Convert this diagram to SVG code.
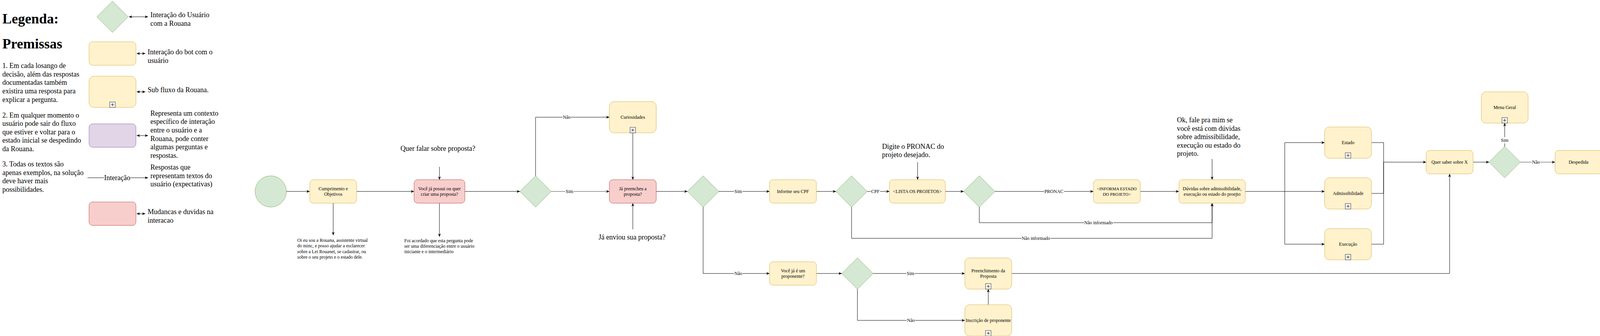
<svg xmlns="http://www.w3.org/2000/svg" width="4222" height="860" viewBox="0 0 4222 860">
<style>
text{font-family:"Liberation Serif","Times New Roman",serif;fill:#000}
.t12{font-size:12px}
.t11{font-size:11px}
.t18{font-size:18px}
.h{font-size:36px;font-weight:bold}
.c{text-anchor:middle}
.y{fill:#fff2cc;stroke:#d6b656;stroke-width:1}
.g{fill:#d5e8d4;stroke:#82b366;stroke-width:1}
.r{fill:#f8cecc;stroke:#b85450;stroke-width:1}
.p{fill:#e1d5e7;stroke:#9673a6;stroke-width:1}
.e{fill:none;stroke:#000;stroke-width:1}
.eg{fill:none;stroke:#808080;stroke-width:1.6}
.lb{fill:#fff;stroke:none}
.mk{fill:#fff;stroke:#333;stroke-width:1}
.pl{stroke:#000;stroke-width:1}
</style>
<defs>
<marker id="a" viewBox="0 0 8 8" refX="8" refY="4" markerWidth="8" markerHeight="8" markerUnits="userSpaceOnUse" orient="auto-start-reverse">
<path d="M0,0.5 L8,4 L0,7.5 L2,4 Z" fill="#000"/>
</marker>
<g id="sub"><rect class="mk" x="-7" y="-14" width="14" height="14"/><path class="pl" d="M-4,-7 H4 M0,-11 V-3"/></g>
</defs>
<rect width="4222" height="860" fill="#fff"/>

<g id="legend">
<text class="h" x="6" y="60">Legenda:</text>
<text class="h" x="6" y="124">Premissas</text>
<text class="t18" x="6">
<tspan x="6" y="174">1. Em cada losango de</tspan>
<tspan x="6" y="196">decisão, além das respostas</tspan>
<tspan x="6" y="217">documentadas também</tspan>
<tspan x="6" y="239">existira uma resposta para</tspan>
<tspan x="6" y="261">explicar a pergunta.</tspan>
<tspan x="6" y="301">2. Em qualquer momento o</tspan>
<tspan x="6" y="322">usuário pode sair do fluxo</tspan>
<tspan x="6" y="344">que estiver e voltar para o</tspan>
<tspan x="6" y="365">estado inicial se despedindo</tspan>
<tspan x="6" y="387">da Rouana.</tspan>
<tspan x="6" y="426">3. Todas os textos são</tspan>
<tspan x="6" y="448">apenas exemplos, na solução</tspan>
<tspan x="6" y="469">deve haver mais</tspan>
<tspan x="6" y="491">possibilidades.</tspan>
</text>
<g id="leg-diamond"><path class="g" d="M288,3 L328,43 L288,83 L248,43 Z"/>
<path class="e" d="M330,43 H379" marker-start="url(#a)" marker-end="url(#a)"/>
<text class="t18"><tspan x="385" y="44">Interação do Usuário</tspan><tspan x="385" y="66">com a Rouana</tspan></text></g>
<g id="leg-bot"><rect class="y" x="228" y="107" width="120" height="60" rx="9"/>
<path class="e" d="M350,137 H372" marker-start="url(#a)" marker-end="url(#a)"/>
<text class="t18"><tspan x="378" y="139">Interação do bot com o</tspan><tspan x="378" y="161">usuário</tspan></text></g>
<g id="leg-sub"><rect class="y" x="228" y="195" width="120" height="80" rx="12"/><use href="#sub" x="288" y="275"/>
<path class="e" d="M350,235 H372" marker-start="url(#a)" marker-end="url(#a)"/>
<text class="t18" x="378" y="236">Sub fluxo da Rouana.</text></g>
<g id="leg-ctx"><rect class="p" x="228" y="317" width="120" height="60" rx="9"/>
<path class="e" d="M350,347 H379" marker-start="url(#a)" marker-end="url(#a)"/>
<text class="t18"><tspan x="385" y="296">Representa um contexto</tspan><tspan x="385" y="317">específico de interação</tspan><tspan x="385" y="339">entre o usuário e a</tspan><tspan x="385" y="361">Rouana, pode conter</tspan><tspan x="385" y="382">algumas perguntas e</tspan><tspan x="385" y="404">respostas.</tspan></text></g>
<g id="leg-int"><path class="e" d="M224,455 H379" marker-end="url(#a)"/>
<rect class="lb" x="266" y="445" width="68" height="20"/>
<text class="t18 c" x="300" y="461">Interação</text>
<text class="t18"><tspan x="385" y="434">Respostas que</tspan><tspan x="385" y="456">representam textos do</tspan><tspan x="385" y="477">usuário (expectativas)</tspan></text></g>
<g id="leg-chg"><rect class="r" x="228" y="517" width="120" height="60" rx="9"/>
<path class="e" d="M350,547 H372" marker-start="url(#a)" marker-end="url(#a)"/>
<text class="t18"><tspan x="378" y="548">Mudancas e duvidas na</tspan><tspan x="378" y="570">interacao</tspan></text></g>
</g>

<g id="connectors">
<path class="e" d="M733,490 H793" marker-end="url(#a)"/>
<path class="e" d="M853,520 V602" marker-end="url(#a)"/>
<path class="e" d="M913,490 H1060" marker-end="url(#a)"/>
<path class="e" d="M1125,427 V460" marker-end="url(#a)"/>
<path class="e" d="M1125,520 V606" marker-end="url(#a)"/>
<path class="e" d="M1190,490 H1331" marker-end="url(#a)"/>
<path class="e" d="M1371,450 V300 H1560" marker-end="url(#a)"/>
<path class="eg" d="M1411,490 H1560" marker-end="url(#a)"/>
<path class="e" d="M1620,340 V460" marker-end="url(#a)"/>
<path class="e" d="M1620,587 V520" marker-end="url(#a)"/>
<path class="e" d="M1680,490 H1760" marker-end="url(#a)"/>
<path class="e" d="M1840,490 H1970" marker-end="url(#a)"/>
<path class="e" d="M1800,530 V700 H1970" marker-end="url(#a)"/>
<path class="e" d="M2090,490 H2140" marker-end="url(#a)"/>
<path class="e" d="M2220,490 H2277" marker-end="url(#a)"/>
<path class="e" d="M2349,415 V460" marker-end="url(#a)"/>
<path class="e" d="M2420,490 H2467" marker-end="url(#a)"/>
<path class="e" d="M2547,490 H2799" marker-end="url(#a)"/>
<path class="e" d="M2507,530 V570 H3103 V520" marker-end="url(#a)"/>
<path class="e" d="M2180,530 V610 H3103 V520" marker-end="url(#a)"/>
<path class="e" d="M2919,490 H3018" marker-end="url(#a)"/>
<path class="e" d="M3103,407 V460" marker-end="url(#a)"/>
<path class="e" d="M3188,490 H3391" marker-end="url(#a)"/>
<path class="e" d="M3289,490 V365 H3391" marker-end="url(#a)"/>
<path class="e" d="M3289,490 V625 H3391" marker-end="url(#a)"/>
<path class="e" d="M3511,365 H3542 V415 H3651" marker-end="url(#a)"/>
<path class="e" d="M3511,495 H3542 V415"/>
<path class="e" d="M3511,625 H3542 V415"/>
<path class="e" d="M3771,415 H3812" marker-end="url(#a)"/>
<path class="e" d="M3852,375 V315" marker-end="url(#a)"/>
<path class="eg" d="M3892,415 H3981" marker-end="url(#a)"/>
<path class="e" d="M4101,415 H4142" marker-end="url(#a)"/>
<path class="e" d="M2090,700 H2155" marker-end="url(#a)"/>
<path class="e" d="M2235,700 H2470" marker-end="url(#a)"/>
<path class="e" d="M2195,740 V820 H2470" marker-end="url(#a)"/>
<path class="e" d="M2530,780 V740" marker-end="url(#a)"/>
<path class="e" d="M2590,700 H3711 V445" marker-end="url(#a)"/>
<g id="edge-labels" class="t12">
<rect class="lb" x="1440" y="292" width="22" height="16"/><text class="c" x="1451" y="304">Não</text>
<rect class="lb" x="1447" y="482" width="22" height="16"/><text class="c" x="1458" y="494">Sim</text>
<rect class="lb" x="1879" y="482" width="22" height="16"/><text class="c" x="1890" y="494">Sim</text>
<rect class="lb" x="1879" y="692" width="22" height="16"/><text class="c" x="1890" y="704">Não</text>
<rect class="lb" x="2229" y="482" width="24" height="16"/><text class="c" x="2241" y="494">CPF</text>
<rect class="lb" x="2673" y="482" width="51" height="16"/><text class="c" x="2698" y="494">PRONAC</text>
<rect class="lb" x="2775" y="562" width="75" height="16"/><text class="c" x="2812" y="574">Não informado</text>
<rect class="lb" x="2615" y="602" width="75" height="16"/><text class="c" x="2652" y="614">Não informado</text>
<rect class="lb" x="3841" y="351" width="22" height="16"/><text class="c" x="3852" y="363">Sim</text>
<rect class="lb" x="3921" y="407" width="22" height="16"/><text class="c" x="3932" y="419">Não</text>
<rect class="lb" x="2320" y="692" width="22" height="16"/><text class="c" x="2331" y="704">Sim</text>
<rect class="lb" x="2321" y="812" width="22" height="16"/><text class="c" x="2332" y="824">Não</text>
</g>
</g>

<g id="start"><circle class="g" cx="693" cy="490" r="40"/></g>
<g id="cumprimento"><rect class="y" x="793" y="460" width="120" height="60" rx="9"/>
<text class="t12 c"><tspan x="853" y="487">Cumprimento e</tspan><tspan x="853" y="501">Objetivos</tspan></text></g>
<g id="oi-texto"><text class="t12"><tspan x="761" y="619">Oi eu sou a Rouana, assistente virtual</tspan><tspan x="761" y="633">do minc, e posso ajudar a esclarecer</tspan><tspan x="761" y="648">sobre a Lei Rouanet, se cadastrar, ou</tspan><tspan x="761" y="662">sobre o seu projeto e o estado dele.</tspan></text></g>
<g id="quer-falar"><text class="t18 c" x="1121" y="386">Quer falar sobre proposta?</text></g>
<g id="possui-proposta"><rect class="r" x="1060" y="460" width="130" height="60" rx="9"/>
<text class="t12 c"><tspan x="1125" y="487">Você já possui ou quer</tspan><tspan x="1125" y="501">criar uma proposta?</tspan></text></g>
<g id="foi-acordado"><text class="t12"><tspan x="1035" y="620">Foi acordado que esta pergunta pode</tspan><tspan x="1035" y="634">ser uma diferenciação entre o usuário</tspan><tspan x="1035" y="648">iniciante e o intermediário</tspan></text></g>
<g id="d1"><path class="g" d="M1371,450 L1411,490 L1371,530 L1331,490 Z"/></g>
<g id="curiosidades"><rect class="y" x="1560" y="260" width="120" height="80" rx="12"/><use href="#sub" x="1620" y="340"/>
<text class="t12 c" x="1620" y="304">Curiosidades</text></g>
<g id="ja-preencheu"><rect class="r" x="1560" y="460" width="120" height="60" rx="9"/>
<text class="t12 c"><tspan x="1620" y="487">Já preencheu a</tspan><tspan x="1620" y="501">proposta?</tspan></text></g>
<g id="ja-enviou"><text class="t18 c" x="1618" y="613">Já enviou sua proposta?</text></g>
<g id="d2"><path class="g" d="M1800,450 L1840,490 L1800,530 L1760,490 Z"/></g>
<g id="informe-cpf"><rect class="y" x="1970" y="460" width="120" height="60" rx="9"/>
<text class="t12 c" x="2030" y="494">Informe seu CPF</text></g>
<g id="d3"><path class="g" d="M2180,450 L2220,490 L2180,530 L2140,490 Z"/></g>
<g id="digite-pronac"><text class="t18"><tspan x="2258" y="381">Digite o PRONAC do</tspan><tspan x="2258" y="402">projeto desejado.</tspan></text></g>
<g id="lista-projetos"><rect class="y" x="2277" y="460" width="143" height="60" rx="9"/>
<text class="t12 c" x="2348.5" y="494">&lt;LISTA OS PROJETOS&gt;</text></g>
<g id="d4"><path class="g" d="M2507,450 L2547,490 L2507,530 L2467,490 Z"/></g>
<g id="informa-estado"><rect class="y" x="2799" y="460" width="120" height="60" rx="9"/>
<text class="t11 c"><tspan x="2859" y="487">&lt;INFORMA ESTADO</tspan><tspan x="2859" y="501">DO PROJETO&gt;</tspan></text></g>
<g id="ok-fale"><text class="t18"><tspan x="3013" y="313">Ok, fale pra mim se</tspan><tspan x="3013" y="335">você está com dúvidas</tspan><tspan x="3013" y="356">sobre admissibilidade,</tspan><tspan x="3013" y="378">execução ou estado do</tspan><tspan x="3013" y="399">projeto.</tspan></text></g>
<g id="duvidas"><rect class="y" x="3018" y="460" width="170" height="60" rx="9"/>
<text class="t12 c"><tspan x="3103" y="487">Dúvidas sobre admissibilidade,</tspan><tspan x="3103" y="501">execução ou estado do proejto</tspan></text></g>
<g id="estado"><rect class="y" x="3391" y="325" width="120" height="80" rx="12"/><use href="#sub" x="3451" y="405"/>
<text class="t12 c" x="3451" y="369">Estado</text></g>
<g id="admissibilidade"><rect class="y" x="3391" y="455" width="120" height="80" rx="12"/><use href="#sub" x="3451" y="535"/>
<text class="t12 c" x="3451" y="499">Admissibilidade</text></g>
<g id="execucao"><rect class="y" x="3391" y="585" width="120" height="80" rx="12"/><use href="#sub" x="3451" y="665"/>
<text class="t12 c" x="3451" y="629">Execução</text></g>
<g id="quer-saber"><rect class="y" x="3651" y="385" width="120" height="60" rx="9"/>
<text class="t12 c" x="3711" y="419">Quer saber sobre X</text></g>
<g id="d5"><path class="g" d="M3852,375 L3892,415 L3852,455 L3812,415 Z"/></g>
<g id="menu-geral"><rect class="y" x="3792" y="235" width="120" height="80" rx="12"/><use href="#sub" x="3852" y="315"/>
<text class="t12 c" x="3852" y="279">Menu Geral</text></g>
<g id="despedida"><rect class="y" x="3981" y="385" width="120" height="60" rx="9"/>
<text class="t12 c" x="4041" y="419">Despedida</text></g>
<g id="end"><circle class="r" cx="4182" cy="415" r="40"/></g>
<g id="proponente"><rect class="y" x="1970" y="670" width="120" height="60" rx="9"/>
<text class="t12 c"><tspan x="2030" y="697">Você já é um</tspan><tspan x="2030" y="711">proponente?</tspan></text></g>
<g id="d6"><path class="g" d="M2195,660 L2235,700 L2195,740 L2155,700 Z"/></g>
<g id="preenchimento"><rect class="y" x="2470" y="660" width="120" height="80" rx="12"/><use href="#sub" x="2530" y="740"/>
<text class="t12 c"><tspan x="2530" y="697">Preenchimento da</tspan><tspan x="2530" y="711">Proposta</tspan></text></g>
<g id="inscricao"><rect class="y" x="2470" y="780" width="120" height="80" rx="12"/><use href="#sub" x="2530" y="860"/>
<text class="t12 c" x="2530" y="824">Inscrição de proponente</text></g>
</svg>
